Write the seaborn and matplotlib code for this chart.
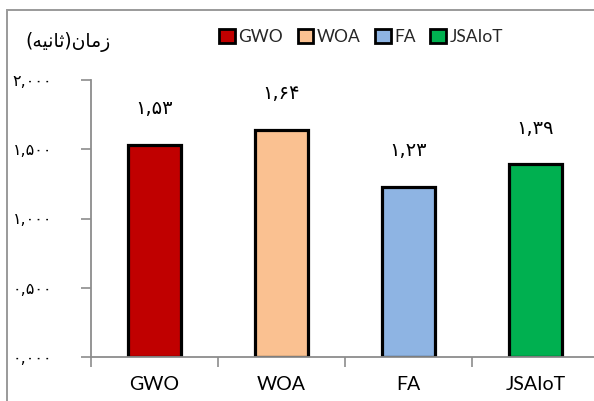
import matplotlib
matplotlib.use("Agg")
import matplotlib.pyplot as plt
from matplotlib.patches import Patch, Rectangle
import seaborn as sns

# Run time of each algorithm (seconds)
algorithms = ["GWO", "WOA", "FA", "JSAIoT"]
times = [1.53, 1.64, 1.23, 1.39]
bar_colors = ["#C00000", "#FAC191", "#8EB4E3", "#00B050"]
y_ticks = [0.0, 0.5, 1.0, 1.5, 2.0]

PERSIAN_DIGITS = str.maketrans("0123456789", "۰۱۲۳۴۵۶۷۸۹")


def fa_num(value, decimals):
    return f"{value:.{decimals}f}".replace(".", ",").translate(PERSIAN_DIGITS)


# "زمان(ثانیه)" written with contextual presentation forms, in visual order
word_time = "\uFEE5\uFE8E\uFEE3\uFEAF"             # زمان
word_second = "\uFEEA\uFEF4\uFEE7\uFE8E\uFE9B"     # ثانیه
y_title = "(" + word_second + ")" + word_time

sns.set_theme(style="white")
plt.rcParams["font.family"] = ["DejaVu Sans"]

W, H = 594, 401
fig = plt.figure(figsize=(W / 100, H / 100), dpi=100)
ax = fig.add_axes([91 / W, (H - 357) / H, (599 - 91) / W, (357 - 80) / H])

sns.barplot(x=algorithms, y=times, hue=algorithms, palette=bar_colors,
            legend=False, width=0.42, edgecolor="black", linewidth=2.3,
            saturation=1, ax=ax)

ax.set_xlim(-0.5, 3.5)
ax.set_ylim(0, 2.0)
ax.set_yticks(y_ticks)
ax.set_yticklabels([fa_num(v, 3) for v in y_ticks], fontsize=11.5,
                   family=["DejaVu Sans"])
ax.set_xticks(range(len(algorithms)))
ax.set_xticklabels(algorithms, fontsize=14, family=["Lato", "DejaVu Sans"])
ax.set_xticks([i - 0.5 for i in range(len(algorithms) + 1)], minor=True)
ax.tick_params(axis="x", which="major", length=0, pad=14, colors="black")
ax.tick_params(axis="x", which="minor", length=7, width=1.2,
               color="#8c8c8c", direction="out", bottom=True)
ax.tick_params(axis="y", length=7, width=1.2, color="#8c8c8c",
               direction="out", left=True, pad=21, labelcolor="black")
ax.set_xlabel("")
ax.set_ylabel("")

for side in ["top", "right"]:
    ax.spines[side].set_visible(False)
for side in ["left", "bottom"]:
    ax.spines[side].set_color("#8c8c8c")
    ax.spines[side].set_linewidth(1.3)

# value labels above the bars
for i, v in enumerate(times):
    ax.annotate(fa_num(v, 2), xy=(i, v), xytext=(0, 26),
                textcoords="offset points", ha="center", va="center",
                fontsize=14, family=["DejaVu Sans"], color="black")

# axis title at the top left
fig.text(25 / W, 1 - 42 / H, y_title, ha="left", va="center",
         fontsize=13.5, family=["DejaVu Sans"], color="black")

# legend
handles = [Patch(facecolor=c, edgecolor="black", linewidth=2.0, label=a)
           for a, c in zip(algorithms, bar_colors)]
fig.legend(handles=handles, loc="center", bbox_to_anchor=(361 / W, 1 - 37 / H),
           ncol=4, frameon=False, handlelength=0.9, handleheight=0.9,
           handletextpad=0.2, columnspacing=0.85, borderaxespad=0,
           prop={"family": ["Lato", "DejaVu Sans"], "size": 12.5})

# chart border
fig.add_artist(Rectangle((7 / W, -0.1), 1.2, (H - 10) / H + 0.1,
                         transform=fig.transFigure, fill=False,
                         edgecolor="#9a9a9a", linewidth=1.4))

fig.savefig("out.png", dpi=100, facecolor="white")
